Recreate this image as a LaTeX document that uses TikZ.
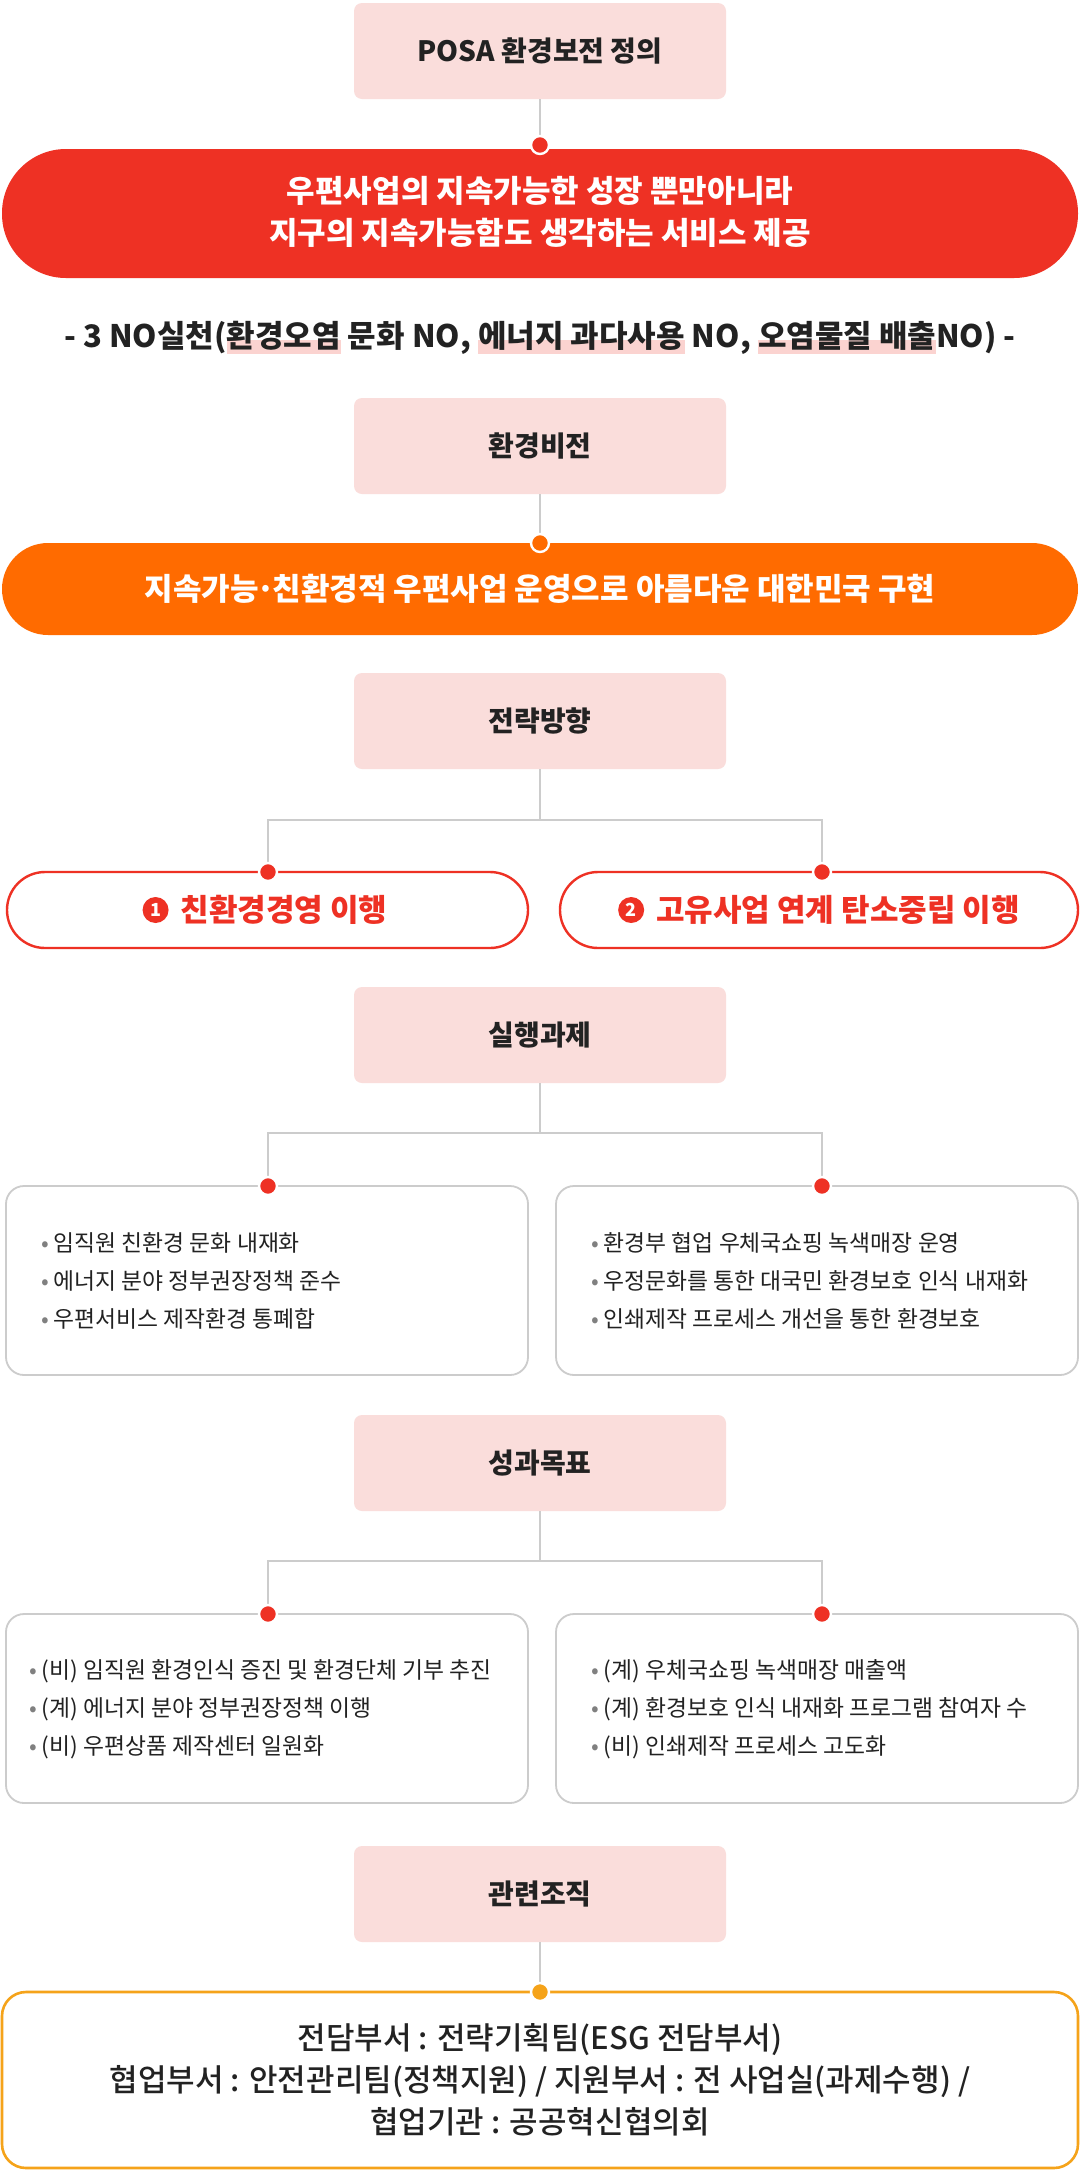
\documentclass[tikz,border=0pt]{standalone}
\usepackage{fontspec}
\setmainfont{Noto Sans CJK KR}
\newfontfamily\medk{Noto Sans CJK KR Medium}
\definecolor{pinkbox}{HTML}{FADDDB}
\definecolor{redc}{HTML}{EE3124}
\definecolor{orangec}{HTML}{FF6B00}
\definecolor{goldc}{HTML}{F5A31A}
\definecolor{linegray}{HTML}{CCCCCC}
\definecolor{txt}{HTML}{222222}
\definecolor{hlpink}{HTML}{FBD3D0}
\newcommand\hlw[1]{\setbox0\hbox{#1}\rlap{\color{hlpink}\rule[-0.2em]{\wd0}{0.45em}}\box0}
\begin{document}
\begin{tikzpicture}[x=0.5pt,y=-0.5pt,
  title/.style={fill=pinkbox,rounded corners=4pt,minimum width=186pt,minimum height=48pt,font=\fontsize{14}{16}\selectfont\bfseries,text=txt},
  dotr/.style={circle,fill=redc,draw=white,line width=1.2pt,inner sep=0pt,minimum size=9pt},
  doto/.style={circle,fill=orangec,draw=white,line width=1.2pt,inner sep=0pt,minimum size=9pt},
  dotg/.style={circle,fill=goldc,draw=white,line width=1.2pt,inner sep=0pt,minimum size=9pt},
  conn/.style={draw=linegray,line width=0.7pt},
  listbox/.style={draw=linegray,line width=0.9pt,rounded corners=9pt,fill=white},
  item/.style={font=\fontsize{11.4}{19}\selectfont,text=txt,align=left,anchor=west},
  pillr/.style={draw=redc,line width=1.2pt,rounded corners=19pt,fill=white},
  numc/.style={circle,fill=redc,text=white,inner sep=0pt,minimum size=13pt,font=\fontsize{9}{9}\selectfont\bfseries}
]
\useasboundingbox (0,0) rectangle (1080,2180);
\fill[white] (0,0) rectangle (1080,2180);
\newcommand\bul{{\color{gray}\textbullet}\ }
% top
\node[title] (t1) at (540,51) {POSA 환경보전 정의};
\coordinate (d1) at (540,145);
\draw[conn] (t1.south) -- (d1);
\fill[redc,rounded corners=32pt] (2,149) rectangle (1078,278);
\node[dotr] at (d1) {};
\node[font=\fontsize{15.5}{21}\selectfont\bfseries,text=white,align=center] (p1) at (540,212) {우편사업의 지속가능한 성장 뿐만아니라\\지구의 지속가능함도 생각하는 서비스 제공};
\node[font=\fontsize{15.5}{16}\selectfont\bfseries,text=txt] (no) at (540,338) {- 3 NO실천(\hlw{환경오염}\ 문화 NO, \hlw{에너지 과다사용}\ NO, \hlw{오염물질 배출}NO) -};
% vision
\node[title] (t2) at (540,446) {환경비전};
\coordinate (d2) at (540,543);
\draw[conn] (t2.south) -- (d2);
\fill[orangec,rounded corners=23pt] (2,543) rectangle (1078,635);
\node[doto] at (d2) {};
\node[font=\fontsize{15.5}{16}\selectfont\bfseries,text=white] at (540,589) {지속가능\makebox[0.45em]{·}친환경적 우편사업 운영으로 아름다운 대한민국 구현};
% strategy
\node[title] (t3) at (540,721) {전략방향};
\coordinate (s3) at (540,820);
\coordinate (l3) at (268,872); \coordinate (r3) at (822,872);
\draw[conn] (t3.south) -- (s3) -- (268,820) -- (l3);
\draw[conn] (s3) -- (822,820) -- (r3);
\draw[pillr] (7,872) rectangle (528,948);
\draw[pillr] (560,872) rectangle (1078,948);
\node[dotr] at (l3) {}; \node[dotr] at (r3) {};
\node[font=\fontsize{15.5}{16}\selectfont\bfseries,text=redc] (s1) at (284,910) {친환경경영 이행};
\node[numc] at ([xshift=-9pt]s1.west) {1};
\node[font=\fontsize{15.5}{16}\selectfont\bfseries,text=redc] (s2) at (838,910) {고유사업 연계 탄소중립 이행};
\node[numc] at ([xshift=-9pt]s2.west) {2};
% tasks
\node[title] (t4) at (540,1035) {실행과제};
\coordinate (s4) at (540,1133);
\coordinate (l4) at (268,1186); \coordinate (r4) at (822,1186);
\draw[conn] (t4.south) -- (s4) -- (268,1133) -- (l4);
\draw[conn] (s4) -- (822,1133) -- (r4);
\draw[listbox] (6,1186) rectangle (528,1375);
\draw[listbox] (556,1186) rectangle (1078,1375);
\node[dotr] at (l4) {}; \node[dotr] at (r4) {};
\node[item] at (34,1281) {\bul 임직원 친환경 문화 내재화\\\bul 에너지 분야 정부권장정책 준수\\\bul 우편서비스 제작환경 통폐합};
\node[item] at (584,1281) {\bul 환경부 협업 우체국쇼핑 녹색매장 운영\\\bul 우정문화를 통한 대국민 환경보호 인식 내재화\\\bul 인쇄제작 프로세스 개선을 통한 환경보호};
% goals
\node[title] (t5) at (540,1463) {성과목표};
\coordinate (s5) at (540,1561);
\coordinate (l5) at (268,1614); \coordinate (r5) at (822,1614);
\draw[conn] (t5.south) -- (s5) -- (268,1561) -- (l5);
\draw[conn] (s5) -- (822,1561) -- (r5);
\draw[listbox] (6,1614) rectangle (528,1803);
\draw[listbox] (556,1614) rectangle (1078,1803);
\node[dotr] at (l5) {}; \node[dotr] at (r5) {};
\node[item] at (22,1709) {\bul (비) 임직원 환경인식 증진 및 환경단체 기부 추진\\\bul (계) 에너지 분야 정부권장정책 이행\\\bul (비) 우편상품 제작센터 일원화};
\node[item] at (584,1709) {\bul (계) 우체국쇼핑 녹색매장 매출액\\\bul (계) 환경보호 인식 내재화 프로그램 참여자 수\\\bul (비) 인쇄제작 프로세스 고도화};
% org
\node[title] (t6) at (540,1894) {관련조직};
\coordinate (d6) at (540,1992);
\draw[conn] (t6.south) -- (d6);
\draw[draw=goldc,line width=1.3pt,rounded corners=12pt,fill=white] (2,1992) rectangle (1078,2168);
\node[dotg] at (d6) {};
\node[font=\medk\fontsize{15.5}{21}\selectfont,text=txt,align=center] at (540,2080) {전담부서 : 전략기획팀(ESG 전담부서)\\협업부서 : 안전관리팀(정책지원) / 지원부서 : 전 사업실(과제수행) /\\협업기관 : 공공혁신협의회};
\end{tikzpicture}
\end{document}
